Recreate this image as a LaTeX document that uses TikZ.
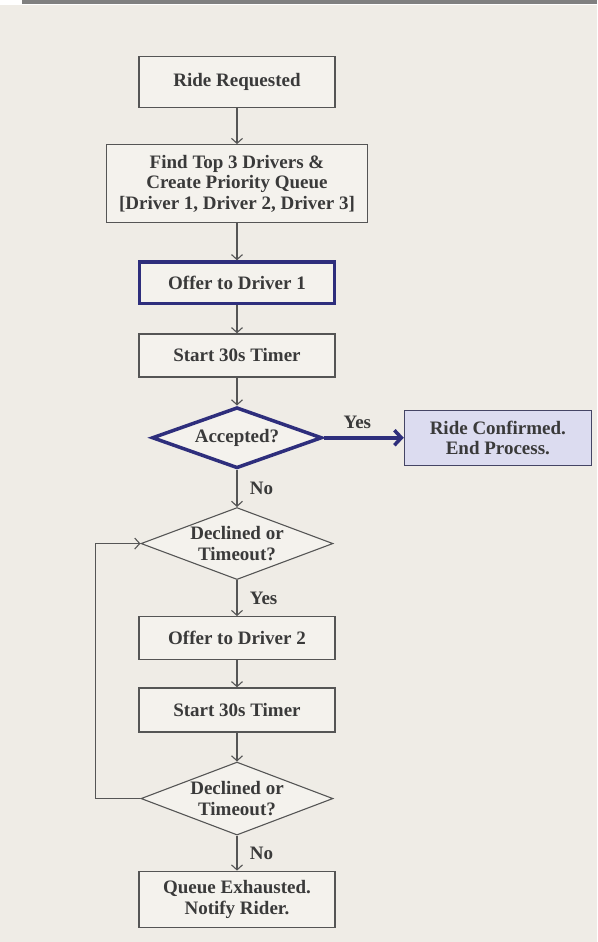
\documentclass[tikz,border=0pt]{standalone}
\usepackage{fontspec}
\setmainfont{Liberation Serif}
\usepackage{tikz}
\usetikzlibrary{arrows.meta, positioning, shapes.geometric}
\definecolor{rqnavy}{HTML}{2E2E7C}
\definecolor{rqgray}{HTML}{555555}
\definecolor{rqtext}{HTML}{3A3A3A}
\definecolor{rqpaper}{HTML}{EFECE6}
\definecolor{rqlav}{HTML}{DCDCF0}
\definecolor{rqbar}{HTML}{808080}

\begin{document}
\begin{tikzpicture}[
  box/.style={rectangle, draw=rqgray, fill=rqpaper!70!white, line width=1.2pt,
    minimum width=196pt, minimum height=#1, inner sep=4pt, align=center,
    font=\fontsize{19}{20.5}\selectfont\bfseries, text=rqtext},
  box/.default=43pt,
  dec/.style={diamond, draw=rqgray, fill=rqpaper!70!white, line width=1.1pt,
    aspect=2.6, inner sep=0pt, minimum width=192pt, minimum height=72pt,
    align=center, font=\fontsize{19}{20.5}\selectfont\bfseries, text=rqtext},
  flow/.style={-{Straight Barb[length=5pt,width=11pt]}, line width=1.1pt, draw=rqgray},
  lbl/.style={font=\fontsize{19}{20.5}\selectfont\bfseries, text=rqtext},
]
  % paper and top rule
  \fill[white] (0,0) rectangle (597pt,-942pt);
  \fill[rqpaper] (0,-5pt) rectangle (597pt,-942pt);
  \fill[rqbar] (22pt,0) rectangle (597pt,-4pt);
  \useasboundingbox (0,0) rectangle (597pt,-942pt);

  \node[box=51pt] (ride) at (237pt,-82pt) {Ride Requested};
  \node[box=78pt, minimum width=261pt, below=36pt of ride] (find) {
    Find Top 3 Drivers \&\\Create Priority Queue\\{[}Driver 1, Driver 2, Driver 3{]}};
  \node[box=41.5pt, draw=rqnavy, line width=3.5pt, minimum width=195pt, below=37pt of find] (offer1) {Offer to Driver 1};
  \node[box, below=28pt of offer1] (timer1) {Start 30s Timer};
  \node[dec, draw=rqnavy, line width=3.5pt, minimum width=170pt, minimum height=61pt, below=28pt of timer1] (acc) {Accepted?};
  \node[box=55pt, minimum width=187pt, fill=rqlav, draw=rqgray!60!rqnavy, right=80pt of acc] (conf) {
    Ride Confirmed.\\End Process.};
  \node[dec, below=37pt of acc] (dec1) {Declined or\\Timeout?};
  \node[box, below=36pt of dec1] (offer2) {Offer to Driver 2};
  \node[box=44pt, below=27pt of offer2] (timer2) {Start 30s Timer};
  \node[dec, minimum height=73pt, below=29pt of timer2] (dec2) {Declined or\\Timeout?};
  \node[box=56pt, below=35pt of dec2] (queue) {Queue Exhausted.\\Notify Rider.};

  \draw[flow] (ride) -- (find);
  \draw[flow] (find) -- (offer1);
  \draw[flow] (offer1) -- (timer1);
  \draw[flow] (timer1) -- (acc);
  \draw[flow, draw=rqnavy, line width=3.5pt, -{Straight Barb[length=7pt,width=15pt]}]
    (acc) -- node[lbl, above, pos=0.42, yshift=4pt] {Yes} (conf);
  \draw[flow] (acc) -- node[lbl, right, xshift=9pt] {No} (dec1);
  \draw[flow] (dec1) -- node[lbl, right, xshift=9pt] {Yes} (offer2);
  \draw[flow] (offer2) -- (timer2);
  \draw[flow] (timer2) -- (dec2);
  \draw[flow] (dec2) -- node[lbl, right, xshift=9pt] {No} (queue);
  % retry loop
  \draw[flow] (dec2.west) -- ++(-45pt,0) |- (dec1.west);
\end{tikzpicture}
\end{document}
